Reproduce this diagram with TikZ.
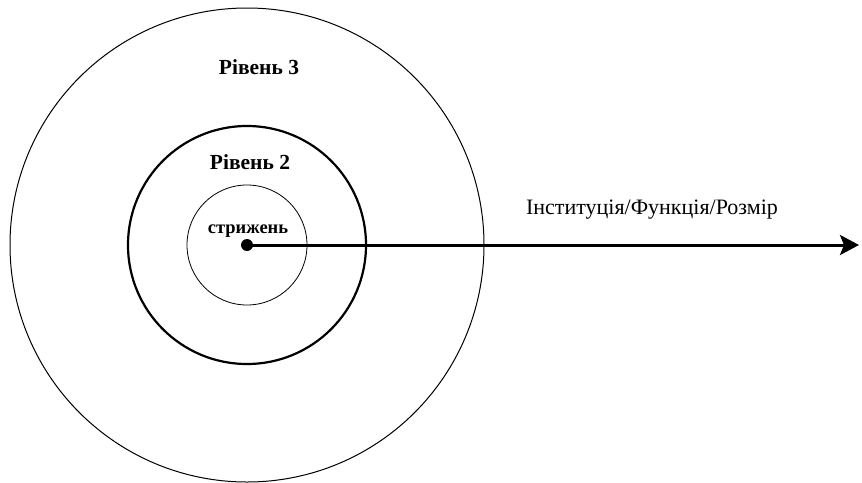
\documentclass[tikz,border=0pt]{standalone}
\usepackage{fontspec}
\setmainfont{Liberation Serif}
\usetikzlibrary{arrows.meta}
\begin{document}
\begin{tikzpicture}[x=1pt,y=-1pt,
  ring/.style={circle,draw,inner sep=0pt},
  lbl/.style={font=\fontsize{21.5}{24}\selectfont\bfseries}]
\useasboundingbox (0,0) rectangle (862,482);
\node[ring,line width=1pt,minimum size=474pt] (lvl3) at (247,245) {};
\node[ring,line width=2.2pt,minimum size=238pt] (lvl2) at (247,245) {};
\node[ring,line width=0.8pt,minimum size=120pt] (core) at (247,245) {};
\node[circle,fill,inner sep=0pt,minimum size=12pt] (c) at (247,245) {};
\coordinate (e) at (859,245);
\draw[line width=3pt,-{Stealth[length=19pt,width=20pt,inset=4pt]}] (c.center) -- (e);
\node[lbl] (t3) at (259,67) {Рівень 3};
\node[lbl] (t2) at (250,162) {Рівень 2};
\node[font=\fontsize{18.5}{21}\selectfont\bfseries] (tc) at (248,231) {стрижень};
\node[font=\fontsize{22}{25}\selectfont] (ta) at (652,210) {Інституція/Функція/Розмір};
\end{tikzpicture}
\end{document}
